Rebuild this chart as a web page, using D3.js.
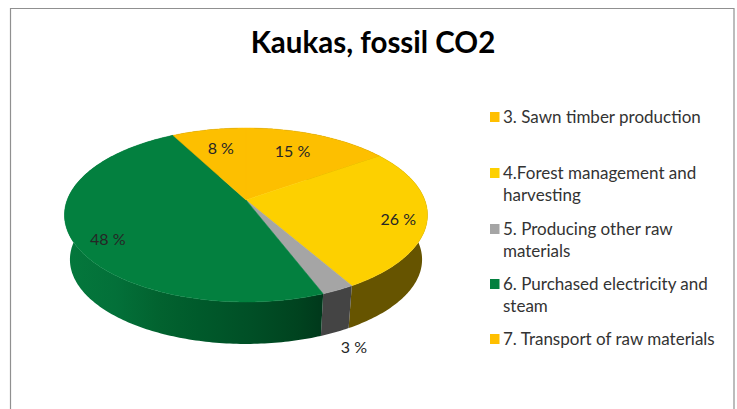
<!DOCTYPE html>
<html>
<head>
<meta charset="utf-8">
<script src="https://cdn.jsdelivr.net/npm/d3@7"></script>
<style>
    html, body { margin: 0; padding: 0; background: #fff; }
    svg { display: block; }
    text { font-family: Lato, "Open Sans", sans-serif; }
</style>
</head>
<body>
<svg id="chart" width="737" height="409"></svg>
<script>
const title = "Kaukas, fossil CO2";
const categories = [
    ["3. Sawn timber production"],
    ["4.Forest management and", "harvesting"],
    ["5. Producing other raw", "materials"],
    ["6. Purchased electricity and", "steam"],
    ["7. Transport of raw materials"]
];
const values = [15.3, 26.3, 2.5, 48.1, 7.8];
const topColors = ["#fdbf00", "#fdd000", "#a5a5a5", "#03803f", "#fdbf00"];

// label placement on the disc: radius, plus a small nudge in pixels
const labelRadius = [0.66, 0.85, 1.1, 0.84, 0.7];
const labelNudge = [[-3, -4], [-1, 3], [8, 5], [7, 8], [2, 0]];
const legendY = [117, 173, 229, 284, 339];

const svg = d3.select("#chart");
const defs = svg.append("defs");

// the pie is tilted, so the disc is drawn with a small perspective
const tilt = -0.1724;
const xDisc = d3.scaleLinear().domain([-1, 1]).range([246 - 178.8, 246 + 178.8]);
const yDisc = d3.scaleLinear().domain([-1, 1]).range([200 - 84.4, 200 + 84.4]);
const depthShrink = 0.97;
const depthY = 245;

function project(angle, r, bottom) {
    const u = Math.sin(angle) * r;
    const v = -Math.cos(angle) * r;
    const w = 1 + tilt * v;
    const x = xDisc(u / w);
    const y = yDisc(v / w);
    if (!bottom) return [x, y];
    return [246 + depthShrink * (x - 246), depthY + depthShrink * (y - 200)];
}

const slices = d3.pie().sort(null).value(d => d).startAngle(0).endAngle(2 * Math.PI)(values);
const line = d3.line();

function arcPoints(s, bottom) {
    const steps = Math.max(4, Math.ceil((s.endAngle - s.startAngle) * 60));
    return d3.range(steps + 1).map(i => {
        const a = s.startAngle + (s.endAngle - s.startAngle) * i / steps;
        return project(a, 1, bottom);
    });
}

// side gradients
function sideGradient(id, stops) {
    const g = defs.append("linearGradient")
        .attr("id", id)
        .attr("gradientUnits", "userSpaceOnUse")
        .attr("x1", 64).attr("x2", 324).attr("y1", 0).attr("y2", 0);
    stops.forEach(st => g.append("stop").attr("offset", st[0]).attr("stop-color", st[1]));
}
sideGradient("side-green", [[0, "#04783c"], [0.2, "#037039"], [0.37, "#02622f"], [0.52, "#005a2b"], [0.72, "#004f26"], [0.9, "#00431f"], [1, "#00381b"]]);
const sideFills = ["#665400", "#665400", "#444444", "url(#side-green)", "#665400"];

// side walls, back ones first, the top disc hides what is behind it
slices.forEach((s, i) => {
    const pts = arcPoints(s, false).concat(arcPoints(s, true).reverse());
    svg.append("path")
        .attr("d", line(pts) + "Z")
        .attr("fill", sideFills[i]);
});

// top of the pie
slices.forEach((s, i) => {
    const pts = [project(0, 0, false)].concat(arcPoints(s, false));
    svg.append("path")
        .attr("d", line(pts) + "Z")
        .attr("fill", topColors[i])
        .attr("stroke", topColors[i])
        .attr("stroke-width", 0.5);
});

// value labels
slices.forEach((s, i) => {
    const mid = (s.startAngle + s.endAngle) / 2;
    const p = project(mid, labelRadius[i], i === 2);
    svg.append("text")
        .attr("x", p[0] + labelNudge[i][0])
        .attr("y", p[1] + labelNudge[i][1])
        .attr("dy", "0.35em")
        .attr("text-anchor", "middle")
        .attr("font-size", 16)
        .attr("fill", "#262626")
        .text(Math.round(s.value) + " %");
});

// frame, open at the bottom
svg.append("path")
    .attr("d", "M10.5,409V8.5H734V409")
    .attr("fill", "none")
    .attr("stroke", "#909090")
    .attr("stroke-width", 1.2);

svg.append("text")
    .attr("x", 373)
    .attr("y", 53)
    .attr("text-anchor", "middle")
    .attr("font-size", 29.5)
    .attr("font-weight", 700)
    .attr("fill", "#000")
    .text(title);

// legend
categories.forEach((lines, i) => {
    svg.append("rect")
        .attr("x", 490)
        .attr("y", legendY[i] - 5)
        .attr("width", 9.5)
        .attr("height", 10)
        .attr("fill", topColors[i] === "#fdbf00" ? "#ffbf00" : topColors[i]);
    lines.forEach((t, j) => {
        svg.append("text")
            .attr("x", 503)
            .attr("y", legendY[i] + j * 22.5)
            .attr("dy", "0.35em")
            .attr("font-size", 17)
            .attr("fill", "#333")
            .text(t);
    });
});
</script>
</body>
</html>
